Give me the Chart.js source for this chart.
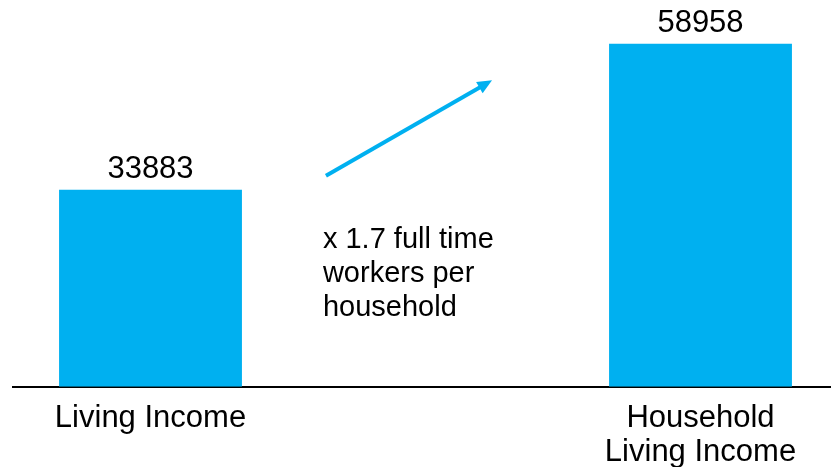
<!DOCTYPE html>
<html>
<head>
<meta charset="utf-8">
<script src="https://cdn.jsdelivr.net/npm/chart.js@4.4.1/dist/chart.umd.min.js"></script>
<style>
  html, body { margin: 0; padding: 0; background: #fff; overflow: hidden; }
  #wrap { width: 838px; height: 477px; }
</style>
</head>
<body>
<div id="wrap"><canvas id="myChart"></canvas></div>
<script>
// chart data
const categories = [['Living Income'], [''], ['Household', 'Living Income']];
const incomeValues = [33883, null, 58958];
const noteLines = ['x 1.7 full time', 'workers per', 'household'];
// arrow goes from about here to here (y in data units)
const arrowFrom = 36300;
const arrowTo = 52700;
const noteBaseline = 23800;

const blue = 'rgb(0, 176, 240)';
const font = '"Liberation Sans", Arial, sans-serif';

const valueLabels = {
  id: 'valueLabels',
  afterDatasetsDraw(chart) {
    const ctx = chart.ctx;
    const meta = chart.getDatasetMeta(0);
    ctx.save();
    ctx.font = '31px ' + font;
    ctx.fillStyle = '#000';
    ctx.textAlign = 'center';
    ctx.textBaseline = 'alphabetic';
    meta.data.forEach((bar, i) => {
      const v = incomeValues[i];
      if (v == null) return;
      ctx.fillText(String(v), bar.x, bar.y - 12);
    });
    ctx.restore();
  }
};

const arrowNote = {
  id: 'arrowNote',
  afterDatasetsDraw(chart) {
    const ctx = chart.ctx;
    const xs = chart.scales.x, ys = chart.scales.y;
    const cx = xs.getPixelForValue(1);
    const w = xs.getPixelForValue(1) - xs.getPixelForValue(0);
    const x0 = cx - 0.362 * w, y0 = ys.getPixelForValue(arrowFrom);
    const x1 = cx + 0.242 * w, y1 = ys.getPixelForValue(arrowTo);
    const ang = Math.atan2(y1 - y0, x1 - x0);
    const head = 16;

    ctx.save();
    ctx.strokeStyle = blue;
    ctx.fillStyle = blue;
    ctx.lineWidth = 4;
    ctx.beginPath();
    ctx.moveTo(x0, y0);
    ctx.lineTo(x1 - Math.cos(ang) * head * 0.8, y1 - Math.sin(ang) * head * 0.8);
    ctx.stroke();
    ctx.beginPath();
    ctx.moveTo(x1, y1);
    ctx.lineTo(x1 - head * Math.cos(ang - 0.42), y1 - head * Math.sin(ang - 0.42));
    ctx.lineTo(x1 - head * Math.cos(ang + 0.42), y1 - head * Math.sin(ang + 0.42));
    ctx.closePath();
    ctx.fill();

    ctx.font = '29px ' + font;
    ctx.fillStyle = '#000';
    ctx.textAlign = 'left';
    ctx.textBaseline = 'alphabetic';
    const tx = cx - 0.373 * w;
    const ty = ys.getPixelForValue(noteBaseline);
    noteLines.forEach((line, i) => ctx.fillText(line, tx, ty + i * 34));
    ctx.restore();
  }
};

const ctx = document.getElementById('myChart');
new Chart(ctx, {
  type: 'bar',
  data: {
    labels: categories,
    datasets: [{
      data: incomeValues,
      backgroundColor: blue,
      borderWidth: 0,
      barPercentage: 0.665,
      categoryPercentage: 1
    }]
  },
  options: {
    responsive: true,
    maintainAspectRatio: false,
    animation: false,
    layout: { padding: { left: 13, right: 0, top: 0, bottom: 0 } },
    plugins: { legend: { display: false }, tooltip: { enabled: false } },
    scales: {
      y: { display: false, min: 0, max: 66500 },
      x: {
        grid: { display: false },
        border: { display: true, color: '#000', width: 2 },
        ticks: {
          color: '#000',
          font: { family: font, size: 31, lineHeight: 1.1 },
          padding: 7,
          maxRotation: 0,
          autoSkip: false
        }
      }
    }
  },
  plugins: [valueLabels, arrowNote]
});
</script>
</body>
</html>
